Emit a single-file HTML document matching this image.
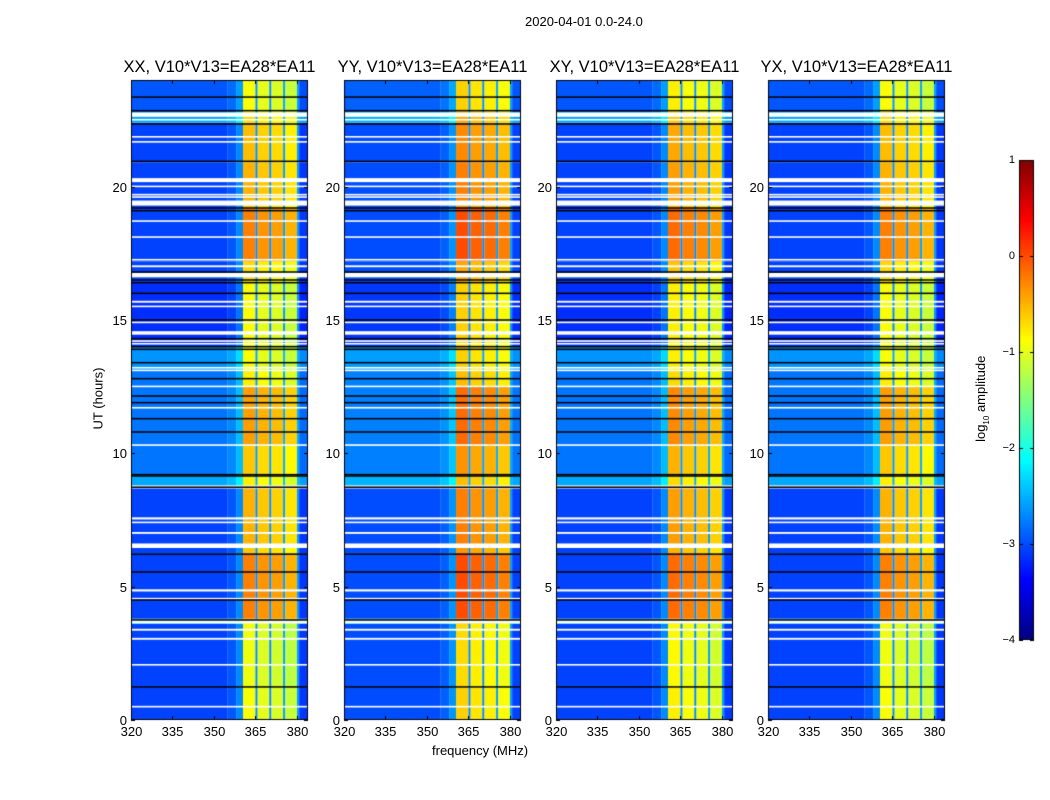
<!DOCTYPE html>
<html><head><meta charset="utf-8">
<style>
body{margin:0;background:#fff;font-family:"Liberation Sans",sans-serif;}
#wrap{position:relative;width:1050px;height:800px;overflow:hidden;background:#fff}
canvas{position:absolute;left:0;top:0}
.t{position:absolute;white-space:nowrap;color:#000}
</style></head><body>
<div id="wrap">
<canvas id="cv" width="1050" height="800"></canvas>
<div class="t" style="left:525px;top:14px;font-size:13px">2020-04-01 0.0-24.0</div>
<div class="t" style="left:48px;top:391px;font-size:13px;transform:rotate(-90deg);width:100px;text-align:center">UT (hours)</div>
<div class="t" style="left:432px;top:743px;font-size:13px">frequency (MHz)</div>
<div class="t" style="left:922px;top:390px;font-size:13px;transform:rotate(-90deg);width:120px;text-align:center">log<sub style="font-size:8px">10</sub> amplitude</div>
<div id="labels"></div>
</div>
<script>
const panelTitles=["XX, V10*V13=EA28*EA11","YY, V10*V13=EA28*EA11","XY, V10*V13=EA28*EA11","YX, V10*V13=EA28*EA11"];
const panelBandOffset=[-0.15,0.1,-0.05,-0.15];
const panelBgOffset=[0.0,0.05,0.0,0.0];
// frequency segments: start MHz, end MHz, level, kind
const freqStart=[320,355,358,360.5,365,365.8,370,370.8,375,375.8,380,380.8];
const freqEnd=[355,358,360.5,365,365.8,370,370.8,375,375.8,380,380.8,384];
const freqLevel=[-3.05,-2.95,-2.7,-0.45,-2.7,-0.55,-2.7,-0.6,-2.6,-0.7,-2.6,-3.1];
const freqKind=["bg","bg","bg","band","gap","band","gap","band","gap","band","gap","bg"];
// time segments (hours): start, end, band offset, background offset
const timeStart=[0,1.2,3.6,3.8,6.25,6.6,8.7,9.2,10.3,12.5,13.1,14.0,16.4,17.2,19.2,19.5,20.9,22.4,22.8];
const timeEnd=[1.2,3.6,3.8,6.25,6.6,8.7,9.2,10.3,12.5,13.1,14.0,16.4,17.2,19.2,19.5,20.9,22.4,22.8,24];
const timeBand=[-0.3,-0.35,-0.2,0.35,0.0,0.1,-0.2,0.0,0.2,-0.2,-0.3,-0.3,-0.1,0.35,0.0,0.1,0.05,-0.1,-0.3];
const timeBg=[0,0,0.7,0,0,0,0.5,0.25,0.25,0.25,0.4,-0.1,0,0,0,0,0,0.5,0.1];
// flagged (white) rows: start/end hour
const flagStart=[0.47,2.04,3.01,3.35,3.62,4.52,4.82,6.45,6.98,7.38,7.52,8.68,10.28,11.68,12.48,13.08,13.18,14.08,14.18,14.45,14.88,15.48,15.65,16.6,16.98,17.23,18.08,18.68,19.29,19.58,19.67,19.98,20.17,21.65,21.84,22.48,22.62];
const flagEnd=[0.53,2.1,3.08,3.42,3.76,4.58,4.9,6.62,7.05,7.44,7.6,8.8,10.34,11.74,12.54,13.14,13.24,14.14,14.24,14.58,14.94,15.54,15.72,16.77,17.05,17.29,18.14,18.74,19.48,19.64,19.73,20.04,20.32,21.71,21.9,22.54,22.78];
// black rows
const blackRows=[1.24,3.75,4.5,5.55,6.22,8.73,9.15,9.2,10.8,11.3,11.9,12.15,12.8,13.4,13.9,14.0,14.3,15.0,16.0,16.4,16.5,16.8,19.1,19.2,20.95,22.35,22.85,23.36];
const xTicks=[320,335,350,365,380];
const yTicks=[0,5,10,15,20];
const cbTicks=[1,0,-1,-2,-3,-4];
const cbTickLabels=["1","0","\u22121","\u22122","\u22123","\u22124"];

const panelLeft=[131,344,556,768];
const PW=177, PT=80, PB=720;
const FMIN=320, FMAX=384, HMIN=0, HMAX=24, VMIN=-4, VMAX=1;
function xs(p,f){return panelLeft[p]+(f-FMIN)/(FMAX-FMIN)*PW;}
function ys(h){return PB-(h-HMIN)/(HMAX-HMIN)*(PB-PT);}
function jet(v){
  let t=(v-VMIN)/(VMAX-VMIN);t=Math.max(0,Math.min(1,t));
  const c=x=>Math.max(0,Math.min(1,x));
  const r=c(1.5-Math.abs(4*t-3)),g=c(1.5-Math.abs(4*t-2)),b=c(1.5-Math.abs(4*t-1));
  return `rgb(${Math.round(r*255)},${Math.round(g*255)},${Math.round(b*255)})`;
}
const cv=document.getElementById('cv');const ctx=cv.getContext('2d');
const lab=document.getElementById('labels');
function label(txt,x,y,size,align,name){
  const d=document.createElement('div');d.className='t';
  
  
  d.textContent=txt;d.style.fontSize=size+'px';d.style.top=(y-size*0.6)+'px';
  if(align==='center'){d.style.left=(x-110)+'px';d.style.width='220px';d.style.textAlign='center';}
  else if(align==='right'){d.style.left=(x-100)+'px';d.style.width='100px';d.style.textAlign='right';}
  else d.style.left=x+'px';
  lab.appendChild(d);
}
for(let p=0;p<4;p++){
  for(let ti=0;ti<timeStart.length;ti++){
    const y0=ys(timeEnd[ti]),y1=ys(timeStart[ti]);
    for(let fi=0;fi<freqStart.length;fi++){
      let v=freqLevel[fi];
      if(freqKind[fi]==='band') v+=timeBand[ti]+panelBandOffset[p];
      else if(freqKind[fi]==='bg') v+=timeBg[ti]+panelBgOffset[p];
      else v+=timeBg[ti]*0.3;
      const x0=xs(p,freqStart[fi]),x1=xs(p,freqEnd[fi]);
      ctx.fillStyle=jet(v);ctx.fillRect(x0,y0,x1-x0,y1-y0);
    }
  }
  ctx.fillStyle='#fff';
  for(let k=0;k<flagStart.length;k++){
    const a=ys(flagEnd[k]),b=ys(flagStart[k]);
    ctx.fillRect(panelLeft[p],a,PW,Math.max(1.5,b-a));
  }
  ctx.fillStyle='#000';
  for(const h of blackRows){ctx.fillRect(panelLeft[p],ys(h)-0.75,PW,1.5);}
  ctx.strokeStyle='#000';ctx.lineWidth=1;
  ctx.strokeRect(panelLeft[p]+0.5,PT+0.5,PW-1,PB-PT-1);
  for(const f of xTicks){const x=Math.round(xs(p,f))+0.5;
    ctx.beginPath();ctx.moveTo(x,PB);ctx.lineTo(x,PB-4);ctx.moveTo(x,PT);ctx.lineTo(x,PT+4);ctx.stroke();
    label(String(f),x,PB+12,13,'center','x-tick-label');}
  for(const h of yTicks){const y=Math.round(ys(h))+0.5;
    ctx.beginPath();ctx.moveTo(panelLeft[p],y);ctx.lineTo(panelLeft[p]+4,y);ctx.moveTo(panelLeft[p]+PW,y);ctx.lineTo(panelLeft[p]+PW-4,y);ctx.stroke();
    label(String(h),panelLeft[p]-4,y,13,'right','y-tick-label');}
  label(panelTitles[p],panelLeft[p]+PW/2,68,16.5,'center','panel-title');
}
// colorbar
const CBX=1019,CBW=15,CBT=160,CBB=640;
for(let y=CBT;y<CBB;y++){const v=VMAX-(y-CBT+0.5)/(CBB-CBT)*(VMAX-VMIN);ctx.fillStyle=jet(v);ctx.fillRect(CBX,y,CBW,1);}
ctx.strokeStyle='#000';ctx.strokeRect(CBX+0.5,CBT+0.5,CBW-1,CBB-CBT-1);
for(let i=0;i<cbTicks.length;i++){
  const y=Math.round(CBB-(cbTicks[i]-VMIN)/(VMAX-VMIN)*(CBB-CBT))+0.5;
  ctx.beginPath();ctx.moveTo(CBX,y);ctx.lineTo(CBX+4,y);ctx.moveTo(CBX+CBW,y);ctx.lineTo(CBX+CBW-4,y);ctx.stroke();
  label(cbTickLabels[i],CBX-4,y,11,'right','colorbar-tick-label');
}
</script>
</body></html>
